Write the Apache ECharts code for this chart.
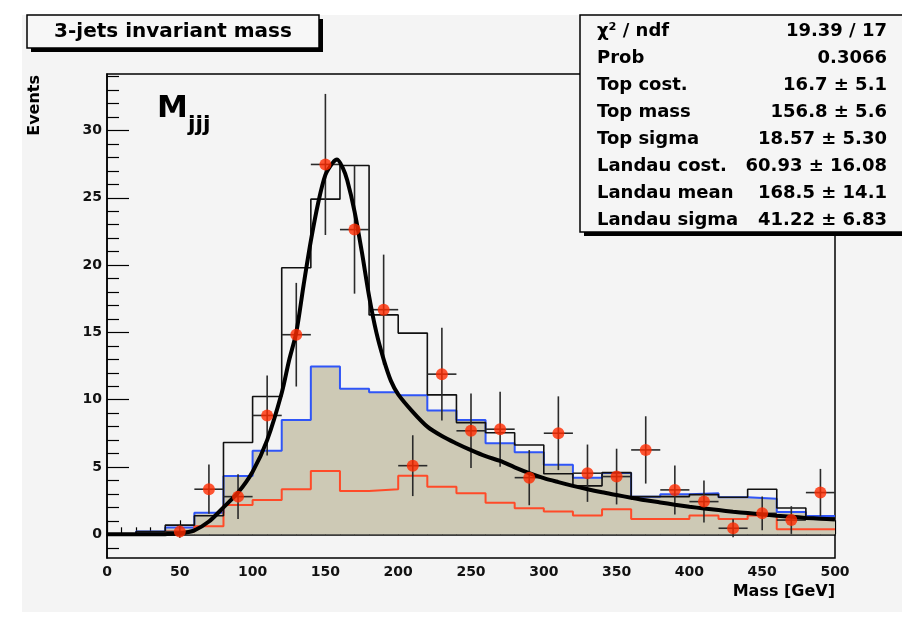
<!DOCTYPE html>
<html>
<head>
<meta charset="utf-8">
<script src="https://cdn.jsdelivr.net/npm/echarts@6/dist/echarts.min.js"></script>
<style>
html,body{margin:0;padding:0;background:#fff;}
#chart{width:902px;height:617px;}
</style>
</head>
<body>
<div id="chart"></div>
<script>
// ---- data ----
const binLowEdges = [0,20,40,60,80,100,120,140,160,180,200,220,240,260,280,300,320,340,360,380,400,420,440,460,480];
const binWidth = 20;
const blackHist = [0,0.2,0.68,1.38,6.82,10.24,19.8,24.9,27.4,16.3,14.95,10.36,8.3,7.55,6.64,4.5,3.6,4.58,2.8,2.8,2.95,2.75,3.35,1.95,1.2];
const blueHist  = [0,0.2,0.5,1.61,4.34,6.2,8.5,12.47,10.81,10.56,10.33,9.2,8.5,6.77,6.1,5.16,4.2,4.55,2.8,2.98,3.05,2.75,2.65,1.66,1.36];
const redHist   = [0,0,0.2,0.6,2.18,2.55,3.35,4.71,3.22,3.35,4.36,3.54,3.05,2.35,1.93,1.7,1.39,1.86,1.14,1.14,1.39,1.14,1.39,0.37,0.37];
const pointX   = [50,70,90,110,130,150,170,190,210,230,250,270,290,310,330,350,370,390,410,430,450,470,490];
const pointY   = [0.2,3.35,2.8,8.83,14.83,27.48,22.64,16.69,5.1,11.9,7.69,7.81,4.21,7.51,4.54,4.29,6.27,3.3,2.43,0.45,1.56,1.06,3.1];
const pointErr = [0.45,1.83,1.67,2.97,3.85,5.24,4.76,4.09,2.26,3.45,2.77,2.79,2.05,2.74,2.13,2.07,2.5,1.82,1.56,0.67,1.25,1.03,1.76];
const curveX = [0,10,20,30,40,50,60,70,80,90,100,110,120,125,130,135,140,145,150,155,158,162,165,170,175,180,185,190,195,200,210,220,230,240,250,260,270,280,290,300,310,320,330,340,350,360,370,380,390,400,410,420,430,440,450,460,470,480,490,500];
const curveY = [0,0,0,0,0.01,0.07,0.3,0.95,2.0,3.1,4.65,7.0,10.5,12.9,15.0,18.5,21.8,24.6,26.7,27.6,27.85,27.2,26.3,24.0,21.0,17.7,15.0,13.0,11.4,10.4,9.1,8.0,7.3,6.75,6.25,5.8,5.45,4.98,4.55,4.18,3.88,3.6,3.35,3.12,2.92,2.72,2.53,2.37,2.2,2.05,1.92,1.8,1.68,1.58,1.48,1.38,1.3,1.22,1.16,1.1];
const xTicksMajor = [0,50,100,150,200,250,300,350,400,450,500];
const yTicksMajor = [0,5,10,15,20,25,30];
const yTicksMinor = [-1,1,2,3,4,6,7,8,9,11,12,13,14,16,17,18,19,21,22,23,24,26,27,28,29,31,32,33,34];
const titleText = '3-jets invariant mass';
const statLabels = ['χ² / ndf','Prob','Top cost.','Top mass','Top sigma','Landau cost.','Landau mean','Landau sigma'];
const statValues = ['19.39 / 17','0.3066','16.7 ± 5.1','156.8 ± 5.6','18.57 ± 5.30','60.93 ± 16.08','168.5 ± 14.1','41.22 ± 6.83'];

// ---- build ----
const FONT = 'DejaVu Sans';
const xMin = 0, xMax = 500, yMin = -1.76, yMax = 34.2;
function histData(vals){
  const d = binLowEdges.map((e,i)=>[e, vals[i]]);
  d.push([binLowEdges[binLowEdges.length-1]+binWidth, vals[vals.length-1]]);
  return d;
}
const pts = pointX.map((x,i)=>[x, pointY[i], pointErr[i]]);
const curve = curveX.map((x,i)=>[x, curveY[i]]);

const chart = echarts.init(document.getElementById('chart'), null, {renderer:'canvas'});

const graphics = [
  // white margins around the ROOT canvas
  {type:'rect', shape:{x:0,y:0,width:902,height:15}, style:{fill:'#fff'}, z:-1},
  {type:'rect', shape:{x:0,y:0,width:22,height:617}, style:{fill:'#fff'}, z:-1},
  {type:'rect', shape:{x:0,y:612,width:902,height:5}, style:{fill:'#fff'}, z:-1},
  // title box
  {type:'rect', shape:{x:31,y:48,width:292,height:4}, style:{fill:'#000'}, z:100},
  {type:'rect', shape:{x:319,y:19,width:4,height:33}, style:{fill:'#000'}, z:100},
  {type:'rect', shape:{x:27,y:15,width:292,height:33}, style:{fill:'#f7f7f7', stroke:'#000', lineWidth:1.5}, z:101},
  {type:'text', x:173, y:31.5, style:{text:titleText, font:'bold 20px "'+FONT+'"', fill:'#000', align:'center', verticalAlign:'middle'}, z:102},
  // stats box
  {type:'rect', shape:{x:584,y:232,width:330,height:4}, style:{fill:'#000'}, z:100},
  {type:'rect', shape:{x:580,y:15,width:330,height:217}, style:{fill:'#f5f5f5', stroke:'#000', lineWidth:1.5}, z:101},
  // axis titles
  {type:'text', x:43, y:75, rotation:Math.PI/2, style:{text:'Events', font:'bold 16px "'+FONT+'"', fill:'#000', align:'right', verticalAlign:'bottom'}, z:50},
  {type:'text', x:835, y:592, style:{text:'Mass [GeV]', font:'bold 16px "'+FONT+'"', fill:'#000', align:'right', verticalAlign:'middle'}, z:50},
  // M_jjj label
  {type:'text', x:157, y:108.5, style:{text:'M', font:'bold 31px "'+FONT+'"', fill:'#000', align:'left', verticalAlign:'middle'}, z:50},
  {type:'text', x:188, y:125.5, style:{text:'jjj', font:'bold 22px "'+FONT+'"', fill:'#000', align:'left', verticalAlign:'middle'}, z:50}
];
statLabels.forEach((t,i)=>{
  const y = 31 + 27*i;
  graphics.push({type:'text', x:597, y:y, style:{text:t, font:'bold 18px "'+FONT+'"', fill:'#000', align:'left', verticalAlign:'middle'}, z:102});
  graphics.push({type:'text', x:887, y:y, style:{text:statValues[i], font:'bold 18px "'+FONT+'"', fill:'#000', align:'right', verticalAlign:'middle'}, z:102});
});

const option = {
  backgroundColor:'#f4f4f4',
  animation:false,
  grid:{left:107, top:74, right:67, bottom:59, show:true, borderColor:'#000', borderWidth:1.5, backgroundColor:'transparent'},
  xAxis:{
    type:'value', min:xMin, max:xMax, interval:50,
    axisLine:{show:true, lineStyle:{color:'#000', width:1.5}},
    axisTick:{show:true, inside:true, length:14, lineStyle:{color:'#000', width:1.2}, customValues:xTicksMajor},
    minorTick:{show:true, splitNumber:5, length:7, lineStyle:{color:'#000', width:1.2}},
    axisLabel:{show:true, margin:7, color:'#111', fontFamily:FONT, fontWeight:'bold', fontSize:14, customValues:xTicksMajor, showMinLabel:true, showMaxLabel:true},
    splitLine:{show:false}
  },
  yAxis:[
    {
      type:'value', min:yMin, max:yMax, position:'left',
      axisLine:{show:true, lineStyle:{color:'#000', width:1.5}},
      axisTick:{show:true, inside:true, length:22, lineStyle:{color:'#000', width:1.2}, customValues:yTicksMajor},
      axisLabel:{show:true, margin:5, color:'#111', fontFamily:FONT, fontWeight:'bold', fontSize:14, customValues:yTicksMajor},
      splitLine:{show:false}
    },
    {
      type:'value', min:yMin, max:yMax, position:'left', offset:0,
      axisLine:{show:false},
      axisTick:{show:true, inside:true, length:12, lineStyle:{color:'#000', width:1.2}, customValues:yTicksMinor},
      axisLabel:{show:false},
      splitLine:{show:false}
    }
  ],
  graphic:{elements:graphics},
  series:[
    {
      type:'line', name:'blue', data:histData(blueHist), step:'end', symbol:'none',
      lineStyle:{color:'#2f55f7', width:2}, areaStyle:{color:'#cdc9b5', opacity:1, origin:0}, z:2
    },
    {
      type:'line', name:'red', data:histData(redHist), step:'end', symbol:'none',
      lineStyle:{color:'#ff4a28', width:2}, z:3
    },
    {
      type:'line', name:'black', data:histData(blackHist), step:'end', symbol:'none',
      lineStyle:{color:'#111', width:1.6}, z:4
    },
    {
      type:'custom', name:'errors', data:pts, z:5,
      renderItem:function(params, api){
        const x = api.value(0), y = api.value(1), e = api.value(2);
        const top = api.coord([x, y+e]);
        const bot = api.coord([x, Math.max(y-e, yMin)]);
        const l = api.coord([x-binWidth/2, y]);
        const r = api.coord([x+binWidth/2, y]);
        return {type:'group', children:[
          {type:'line', shape:{x1:top[0],y1:top[1],x2:bot[0],y2:bot[1]}, style:{stroke:'#2a2a2a', lineWidth:1.6}},
          {type:'line', shape:{x1:l[0],y1:l[1],x2:r[0],y2:r[1]}, style:{stroke:'#2a2a2a', lineWidth:1.6}}
        ]};
      }
    },
    {
      type:'line', name:'fit', data:curve, smooth:0.3, symbol:'none',
      lineStyle:{color:'#000', width:4}, z:6
    },
    {
      type:'scatter', name:'data', data:pts.map(p=>[p[0],p[1]]), symbol:'circle', symbolSize:12,
      itemStyle:{color:'#ff2a00'}, z:7
    }
  ]
};
chart.setOption(option);
</script>
</body>
</html>
